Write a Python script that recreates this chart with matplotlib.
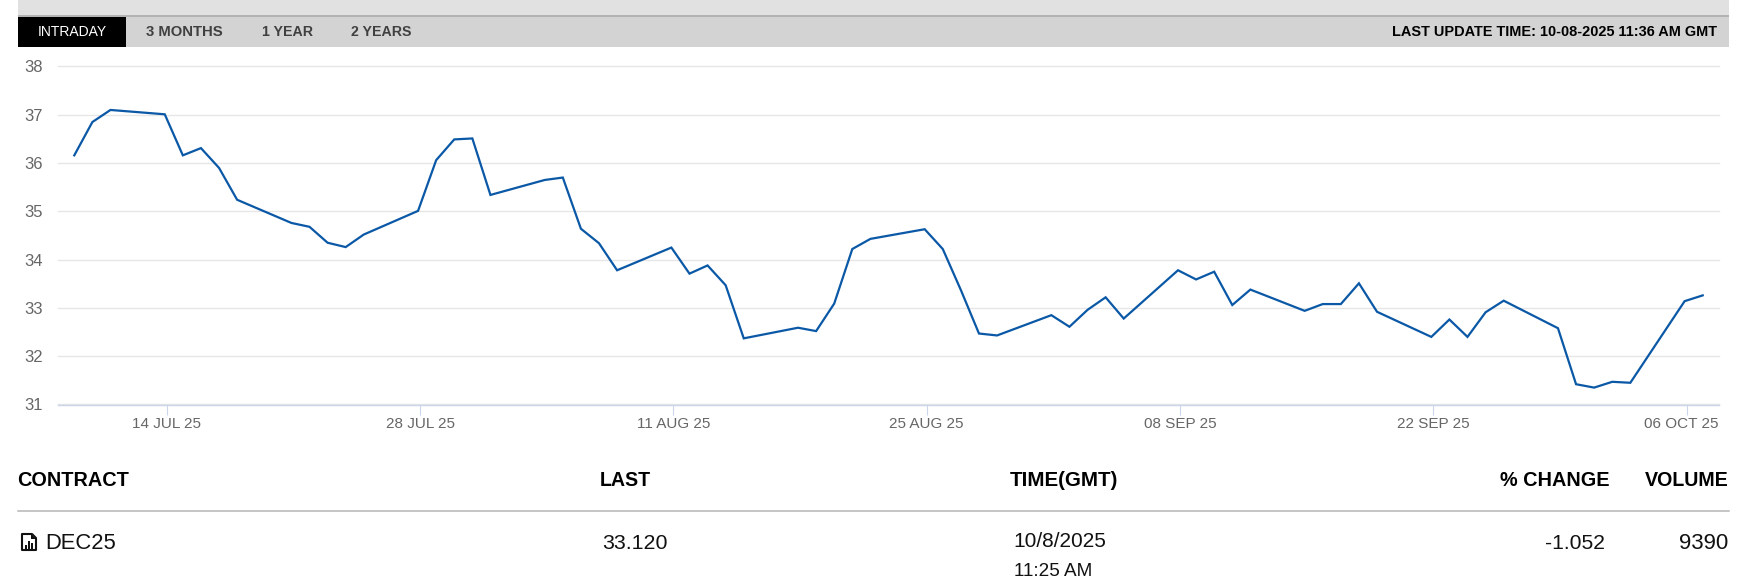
import numpy as np
import matplotlib

matplotlib.use('Agg')
import matplotlib.pyplot as plt
import matplotlib.dates as mdates
from matplotlib.patches import Rectangle, Polygon
from matplotlib.transforms import ScaledTranslation

plt.rcParams['font.family'] = ['Liberation Sans', 'DejaVu Sans']

W, H = 1748, 585

dates = [
    '2025-07-09', '2025-07-10', '2025-07-11', '2025-07-14', '2025-07-15', '2025-07-16', '2025-07-17', '2025-07-18',
    '2025-07-21', '2025-07-22', '2025-07-23', '2025-07-24', '2025-07-25', '2025-07-28', '2025-07-29', '2025-07-30',
    '2025-07-31', '2025-08-01', '2025-08-04', '2025-08-05', '2025-08-06', '2025-08-07', '2025-08-08', '2025-08-11',
    '2025-08-12', '2025-08-13', '2025-08-14', '2025-08-15', '2025-08-18', '2025-08-19', '2025-08-20', '2025-08-21',
    '2025-08-22', '2025-08-25', '2025-08-26', '2025-08-27', '2025-08-28', '2025-08-29', '2025-09-01', '2025-09-02',
    '2025-09-03', '2025-09-04', '2025-09-05', '2025-09-08', '2025-09-09', '2025-09-10', '2025-09-11', '2025-09-12',
    '2025-09-15', '2025-09-16', '2025-09-17', '2025-09-18', '2025-09-19', '2025-09-22', '2025-09-23', '2025-09-24',
    '2025-09-25', '2025-09-26', '2025-09-29', '2025-09-30', '2025-10-01', '2025-10-02', '2025-10-03', '2025-10-06',
    '2025-10-07',
]
prices = [
    36.16, 36.85, 37.10, 37.01, 36.16, 36.31, 35.90, 35.24,
    34.76, 34.68, 34.35, 34.26, 34.52, 35.01, 36.06, 36.49,
    36.51, 35.34, 35.65, 35.70, 34.64, 34.34, 33.78, 34.25,
    33.71, 33.88, 33.47, 32.37, 32.59, 32.52, 33.09, 34.22,
    34.43, 34.63, 34.22, 33.37, 32.47, 32.43, 32.85, 32.61,
    32.96, 33.22, 32.78, 33.78, 33.59, 33.75, 33.06, 33.38,
    32.94, 33.08, 33.08, 33.51, 32.92, 32.40, 32.76, 32.40,
    32.91, 33.15, 32.58, 31.42, 31.35, 31.47, 31.45, 33.14,
    33.26,
]
tick_dates = ['2025-07-14', '2025-07-28', '2025-08-11', '2025-08-25', '2025-09-08', '2025-09-22', '2025-10-06']
tick_labels = ['14 JUL 25', '28 JUL 25', '11 AUG 25', '25 AUG 25', '08 SEP 25', '22 SEP 25', '06 OCT 25']
y_ticks = [31, 32, 33, 34, 35, 36, 37, 38]

tabs = ['3 MONTHS', '1 YEAR', '2 YEARS']
tab_x = [146, 262, 351]
headers = ['CONTRACT', 'LAST', 'TIME(GMT)', '% CHANGE', 'VOLUME']
row = ['DEC25', '33.120', '10/8/2025', '11:25 AM', '-1.052', '9390']

def main():
    fig = plt.figure(figsize=(W / 100, H / 100), dpi=100, facecolor='white')

    # page furniture is placed in pixels
    bg = fig.add_axes([0, 0, 1, 1], zorder=0)
    bg.set_xlim(0, W)
    bg.set_ylim(H, 0)
    bg.axis('off')

    bg.add_patch(Rectangle((18, 0), 1711, 15, fc='#e1e1e1', ec='none'))
    bg.add_patch(Rectangle((18, 15), 1711, 1.5, fc='#b3b3b3', ec='none'))
    bg.add_patch(Rectangle((18, 16.5), 1711, 30.5, fc='#d3d3d3', ec='none'))
    bg.add_patch(Rectangle((18, 16.5), 108, 30.5, fc='black', ec='none'))

    bg.text(38, 31.5, 'INTRADAY', color='white', fontsize=10, va='center')
    for label, x in zip(tabs, tab_x):
        size = 10.7 if label == '3 MONTHS' else 10.2
        bg.text(x, 31.5, label, color='#404040', fontsize=size, fontweight='bold', va='center')
    bg.text(1717, 31.5, 'LAST UPDATE TIME: 10-08-2025 11:36 AM GMT', color='black',
            fontsize=10.45, fontweight='bold', va='center', ha='right')

    bg.text(17.5, 480, headers[0], fontsize=14.3, fontweight='bold', va='center')
    bg.text(600, 480, headers[1], fontsize=14.1, fontweight='bold', va='center')
    bg.text(1010, 480, headers[2], fontsize=14.8, fontweight='bold', va='center')
    bg.text(1609, 480, headers[3], fontsize=14.3, fontweight='bold', va='center', ha='right')
    bg.text(1729, 480, headers[4], fontsize=14.1, fontweight='bold', va='center', ha='right')
    bg.plot([18, 1729], [510.5, 510.5], color='#b5b5b5', lw=1.1)

    # little chart file icon next to the contract name
    bg.add_patch(Polygon([(22, 534), (32, 534), (36, 538), (36, 550), (22, 550)], closed=True,
                         fc='white', ec='#111111', lw=1.5, joinstyle='round'))
    bg.add_patch(Polygon([(31, 534), (36, 539), (31, 539)], closed=True, fc='#111111', ec='none'))
    for bx, top in zip([25, 28, 31], [545, 541, 543]):
        bg.add_patch(Rectangle((bx, top), 1.6, 548.5 - top, fc='#111111', ec='none'))

    bg.text(45.5, 543.5, row[0], fontsize=15.8, color='#111111', va='center')
    bg.text(602, 543.5, row[1], fontsize=15.4, color='#111111', va='center')
    bg.text(1013.5, 541.5, row[2], fontsize=15, color='#111111', va='center')
    bg.text(1013.5, 571.5, row[3], fontsize=13.6, color='#111111', va='center')
    bg.text(1605, 543.5, row[4], fontsize=15.2, color='#111111', va='center', ha='right')
    bg.text(1728.5, 543.5, row[5], fontsize=16, color='#111111', va='center', ha='right')

    # the price chart, axes box is the grid area
    left, right, top, bottom = 58, 1719, 66.5, 404.5
    ax = fig.add_axes([left / W, 1 - bottom / H, (right - left) / W, (bottom - top) / H], zorder=1)
    ax.patch.set_alpha(0)

    x = mdates.date2num(np.array(dates, dtype='datetime64[D]'))
    # the ticks sit a touch after the daily points
    ticks = mdates.date2num(np.array(tick_dates, dtype='datetime64[D]')) + 0.11

    ax.plot(x, prices, color='#0a58a6', lw=1.6, solid_joinstyle='miter', zorder=3)

    ax.set_xlim(ticks[0] - 6.01, ticks[-1] + 1.79)
    ax.set_ylim(31, 38)
    ax.set_yticks(y_ticks)
    ax.set_xticks(ticks)
    ax.set_xticklabels(tick_labels)
    ax.grid(axis='y', color='#e6e6e6', lw=1.0)
    ax.set_axisbelow(True)
    # top line sits on the axes edge and would get cut off
    for line in ax.get_ygridlines():
        line.set_clip_on(False)

    for name in ['top', 'right', 'left']:
        ax.spines[name].set_visible(False)
    ax.spines['bottom'].set_color('#ccd6eb')
    ax.spines['bottom'].set_linewidth(1.0)

    ax.tick_params(axis='y', length=0, pad=10.8, labelsize=12, labelcolor='#666666')
    ax.tick_params(axis='x', length=7.2, width=0.8, color='#ccd6eb', pad=2.0,
                   labelsize=11, labelcolor='#666666')
    last = ax.get_xticklabels()[-1]
    last.set_transform(last.get_transform() + ScaledTranslation(-5.0 / 100, 0, fig.dpi_scale_trans))

    fig.savefig('out.png', dpi=100, facecolor='white')


if __name__ == '__main__':
    main()
